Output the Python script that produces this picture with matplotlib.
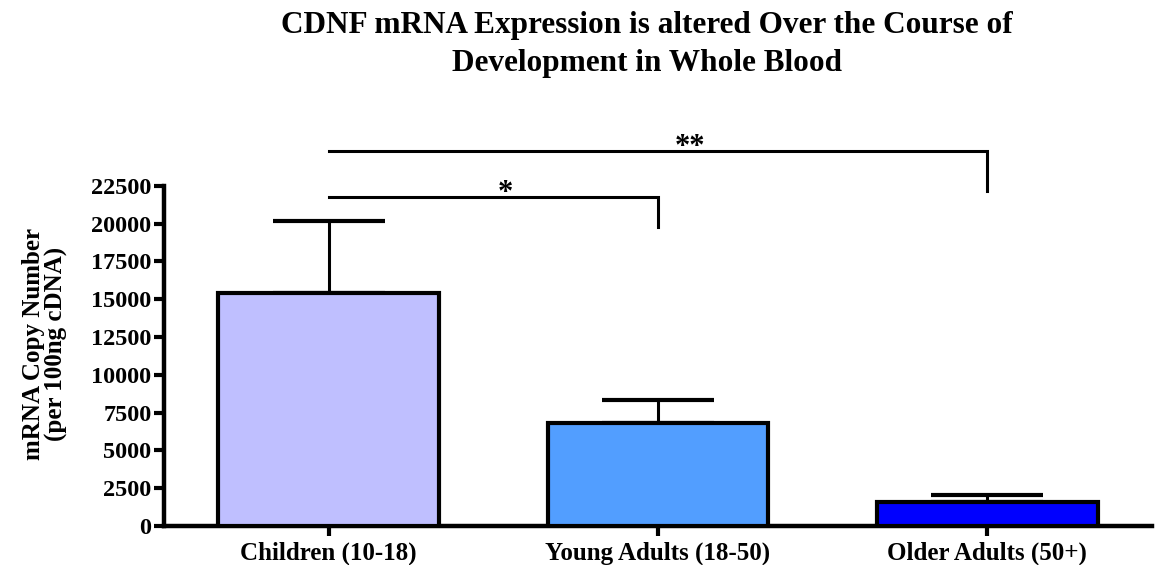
import numpy as np
import matplotlib.pyplot as plt

groups = ['Children (10-18)', 'Young Adults (18-50)', 'Older Adults (50+)']
means = [15400, 6800, 1600]
sem = [4800, 1550, 450]
colors = ['#BFBFFF', '#529EFF', '#0000FF']
yticks = np.arange(0, 22501, 2500)

plt.rcParams['font.family'] = 'Liberation Serif'
plt.rcParams['font.weight'] = 'bold'

fig = plt.figure(figsize=(11.57, 5.65), dpi=100)
ax = fig.add_axes([0.1417, 0.069, 0.854, 0.602])

x = np.arange(len(groups))
ax.bar(x, means, width=0.67, color=colors, edgecolor='black', linewidth=3, zorder=3)
ax.errorbar(x, means, yerr=[np.zeros(len(sem)), sem], fmt='none', ecolor='black',
            elinewidth=2.2, capsize=40, capthick=3, zorder=2)

ax.set_xlim(-0.5, 2.5)
ax.set_ylim(0, 22500)
ax.set_yticks(yticks)
ax.set_xticks(x)
ax.set_xticklabels(groups, fontsize=18, fontweight='bold')
ax.tick_params(axis='y', labelsize=17.5, width=3, length=7, pad=2)
ax.tick_params(axis='x', width=3, length=7, pad=4)
for lab in ax.get_yticklabels():
    lab.set_fontweight('bold')

for side in ['top', 'right']:
    ax.spines[side].set_visible(False)
for side in ['left', 'bottom']:
    ax.spines[side].set_linewidth(3.2)

ax.set_ylabel('mRNA Copy Number\n(per 100ng cDNA)', fontsize=18, fontweight='bold',
              linespacing=1.0)
ax.yaxis.set_label_coords(-0.097, 0.535)

# significance brackets
def bracket(x0, x1, y, drop, text, dx):
    ax.plot([x0, x1, x1], [y, y, drop], color='black', lw=2.2, clip_on=False,
            solid_joinstyle='miter')
    ax.text((x0 + x1) / 2 + dx, y - 250, text, ha='center', va='baseline',
            fontsize=22, fontweight='bold', clip_on=False)

bracket(0, 1, 21770, 19790, '*', 0.036)
bracket(0, 2, 24820, 22170, '**', 0.097)

fig.suptitle('CDNF mRNA Expression is altered Over the Course of\nDevelopment in Whole Blood',
             x=0.559, y=0.98, fontsize=22.5, fontweight='bold', linespacing=1.4)

fig.savefig('out.png', dpi=100)
